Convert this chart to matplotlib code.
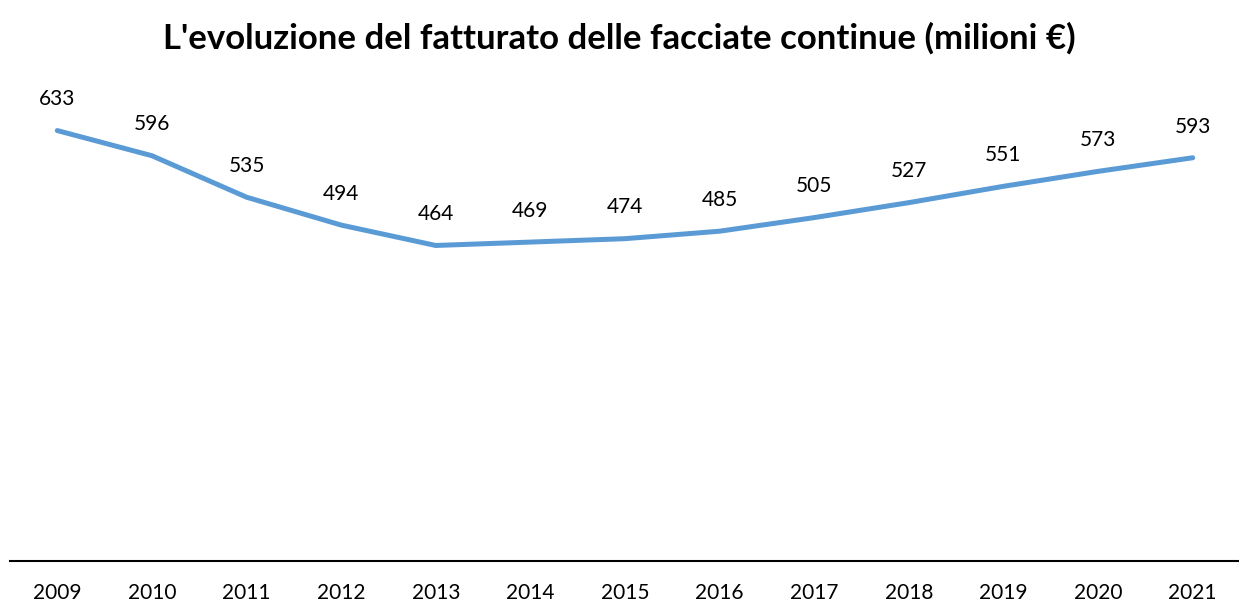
import matplotlib.pyplot as plt

# data
years = ["2009", "2010", "2011", "2012", "2013", "2014", "2015",
         "2016", "2017", "2018", "2019", "2020", "2021"]
fatturato = [633, 596, 535, 494, 464, 469, 474, 485, 505, 527, 551, 573, 593]

plt.rcParams['font.family'] = ['Lato', 'DejaVu Sans']

fig = plt.figure(figsize=(12.39, 6.02), dpi=100)
ax = fig.add_axes([10 / 1239, 41 / 602, 1230 / 1239, 476 / 602])

x = list(range(len(years)))
ax.plot(x, fatturato, color="#5B9BD5", linewidth=3.6, solid_capstyle="round")

for xi, v in zip(x, fatturato):
    ax.annotate(str(v), (xi, v), xytext=(0, 22.5), textcoords="offset points",
                ha="center", va="center", fontsize=15, color="black")

ax.set_xlim(-0.5, len(years) - 0.5)
ax.set_ylim(0, 700)
ax.set_xticks(x)
ax.set_xticklabels(years, fontsize=15)
ax.tick_params(axis="x", length=0, pad=16)
ax.set_yticks([])
for s in ["top", "left", "right"]:
    ax.spines[s].set_visible(False)
ax.spines["bottom"].set_linewidth(1.5)
ax.spines["bottom"].set_color("black")

fig.text(0.5, 1 - 38 / 602, "L'evoluzione del fatturato delle facciate continue (milioni €)",
         ha="center", va="center", fontsize=25, fontweight="bold")

plt.savefig("out.png", dpi=100)
